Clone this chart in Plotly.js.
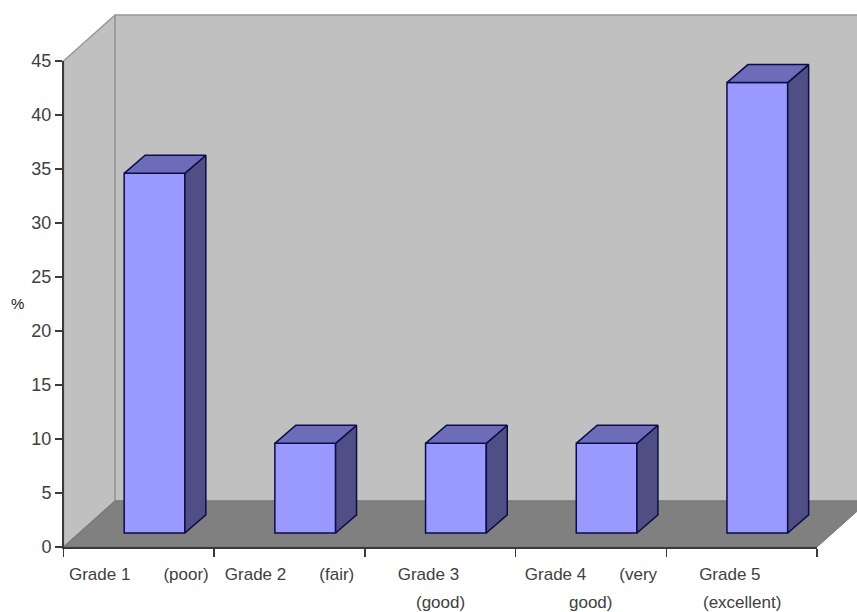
<!DOCTYPE html>
<html>
<head>
<meta charset="utf-8">
<script src="https://cdn.plot.ly/plotly-3.0.1.min.js"></script>
<style>html,body{margin:0;padding:0;background:#fff;overflow:hidden}</style>
</head>
<body>
<div id="chart" style="width:857px;height:612px"></div>
<script>
const gap = k => '\u00A0'.repeat(k);
const tickLabels = [
  'Grade 1' + gap(7) + '(poor)',
  'Grade 2' + gap(7) + '(fair)',
  'Grade 3' + gap(5),
  'Grade 4' + gap(7) + '(very',
  'Grade 5' + gap(5)
];
const secondLines = ['', '', '(good)', 'good)', '(excellent)'];
const percentages = [33.3, 8.3, 8.3, 8.3, 41.7];
const yTicks = [0, 5, 10, 15, 20, 25, 30, 35, 40, 45];

// figure geometry in pixels
const W = 857, H = 612, L = 63.5, R = 817, T = 61, B = 547;
// 3D projection offsets, in axis units
const wallDx = 0.342, wallDy = 4.26;   // depth of the chart box
const barDx = 0.139, barDy = 1.67;     // depth of a bar
const floorLift = 1.3, barShift = 0.104, barWidth = 0.403;

const FONT = 'Liberation Sans, Arial, sans-serif';
const TEXT = '#404040';
const n = percentages.length, yMax = 45;
const pxX = (R - L) / n, pxY = (B - T) / yMax;

function poly(xs, ys, fill, line, lw, front) {
  const t = {
    type: 'scatter', mode: lw ? 'lines' : 'none',
    x: xs.concat(xs[0]), y: ys.concat(ys[0]),
    fill: 'toself', fillcolor: fill,
    line: {color: line || fill, width: lw || 0},
    hoverinfo: 'skip', showlegend: false
  };
  if (front) { t.xaxis = 'x2'; t.yaxis = 'y2'; }
  return t;
}

const WALL = '#c0c0c0', EDGE = '#969696', FLOOR = '#808080', BAR_EDGE = '#0c0c48';
const traces = [
  poly([0, wallDx, wallDx, 0], [0, wallDy, yMax + wallDy, yMax], WALL, EDGE, 1.5),
  poly([wallDx, n + wallDx, n + wallDx, wallDx], [wallDy, wallDy, yMax + wallDy, yMax + wallDy], WALL, EDGE, 1.5),
  poly([0, n, n + wallDx, wallDx], [0, 0, wallDy, wallDy], FLOOR, '#737373', 1)
];

const centers = percentages.map((_, i) => i + 0.5 + barShift);
traces.push({
  type: 'bar', x: centers, y: percentages, base: floorLift, width: barWidth,
  marker: {color: '#9999ff', line: {color: BAR_EDGE, width: 1.5}},
  xaxis: 'x2', yaxis: 'y2', hoverinfo: 'y', showlegend: false
});
percentages.forEach((v, i) => {
  const l = centers[i] - barWidth / 2, r = centers[i] + barWidth / 2;
  const b = floorLift, t = floorLift + v;
  traces.push(poly([r, r + barDx, r + barDx, r], [b, b + barDy, t + barDy, t], '#4f4f85', BAR_EDGE, 1.5, true));
  traces.push(poly([l, r, r + barDx, l + barDx], [t, t, t + barDy, t + barDy], '#6c6cb8', BAR_EDGE, 1.5, true));
});

const annotations = [{
  text: '%', xref: 'paper', yref: 'paper', showarrow: false,
  x: 17 / W, y: 1 - 303 / H, xanchor: 'center', yanchor: 'middle',
  font: {family: FONT, size: 15, color: '#222'}
}];
secondLines.forEach((s, i) => {
  if (!s) return;
  annotations.push({
    text: s, xref: 'x2', yref: 'paper', showarrow: false,
    x: i + 0.5, y: 1 - 602 / H, xanchor: 'center', yanchor: 'middle',
    font: {family: FONT, size: 17, color: TEXT}
  });
});

const layout = {
  width: W, height: H, autosize: false,
  margin: {l: 0, r: 0, t: 0, b: 0, pad: 0},
  paper_bgcolor: '#fff', plot_bgcolor: 'rgba(0,0,0,0)',
  showlegend: false, bargap: 0,
  font: {family: FONT, size: 17, color: TEXT},
  // full-page backdrop axes on the same scale as the visible axes
  xaxis: {domain: [0, 1], range: [-L / pxX, (W - L) / pxX], visible: false, fixedrange: true},
  yaxis: {domain: [0, 1], range: [-(H - B) / pxY, yMax + T / pxY], visible: false, fixedrange: true},
  xaxis2: {
    domain: [L / W, R / W], anchor: 'y2',
    range: [0, n], fixedrange: true, showgrid: false, zeroline: false,
    showline: true, linecolor: '#3a3a3a', linewidth: 1.5,
    tickmode: 'array', tickvals: tickLabels.map((_, i) => i + 0.5), ticktext: tickLabels,
    ticks: '', ticklabelstandoff: 11, tickangle: 0,
    minor: {dtick: 1, tick0: 0, ticks: 'outside', ticklen: 8, tickwidth: 1.5, tickcolor: '#3a3a3a', showgrid: false}
  },
  yaxis2: {
    domain: [1 - B / H, 1 - T / H], anchor: 'x2',
    range: [0, yMax], fixedrange: true, showgrid: false, zeroline: false,
    showline: true, linecolor: '#3a3a3a', linewidth: 1.5,
    tickmode: 'array', tickvals: yTicks, tickfont: {size: 18},
    ticks: 'outside', ticklen: 7, tickwidth: 1.5, tickcolor: '#3a3a3a'
  },
  annotations: annotations
};
Plotly.newPlot('chart', traces, layout, {displayModeBar: false, staticPlot: true});
</script>
</body>
</html>
